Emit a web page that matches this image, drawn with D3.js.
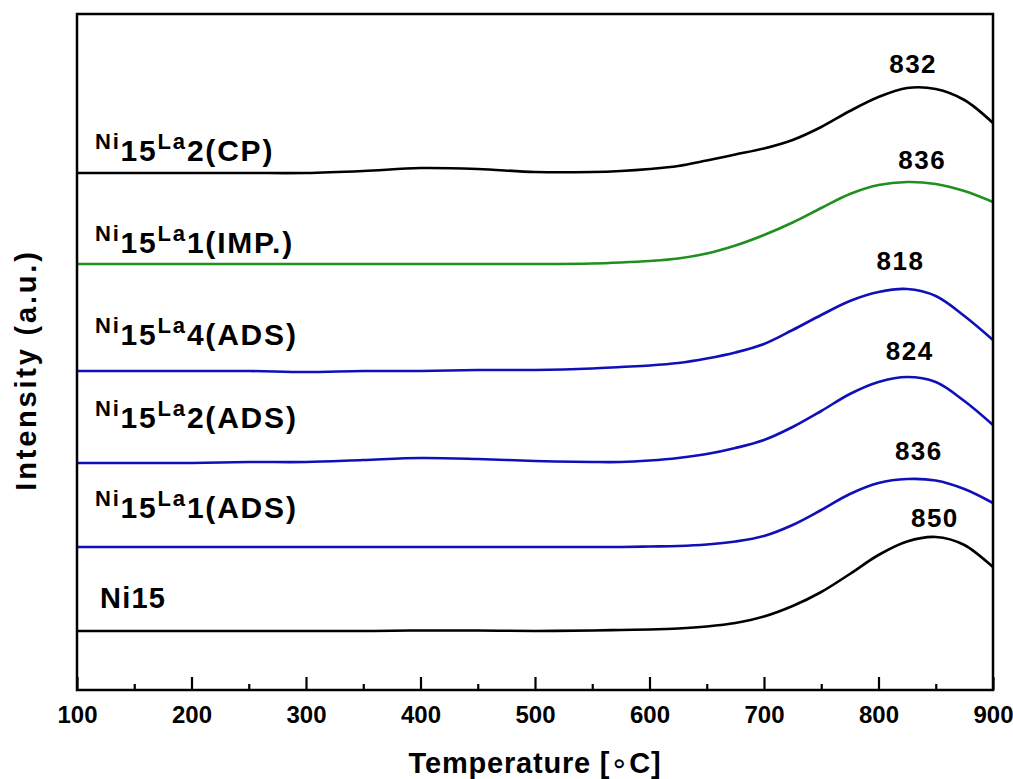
<!DOCTYPE html>
<html>
<head>
<meta charset="utf-8">
<script src="https://cdn.jsdelivr.net/npm/d3@7"></script>
<style>
  html, body { margin: 0; padding: 0; background: #fff; }
  svg { display: block; font-family: "Liberation Sans", Arial, sans-serif; font-weight: bold; }
</style>
</head>
<body>
<svg id="chart" width="1013" height="779"></svg>
<script>
// ---- data (temperature grid in °C, intensity in arbitrary units) ----
const temps = [100,150,200,250,300,350,400,450,500,550,575,600,625,650,675,700,725,750,775,800,825,850,875,900];

const ni15        = [59,59,59,59,59,59,59.5,59.5,59,59.5,60,60.5,61.5,63.5,67,73.5,84,98,116,135,148.5,153,145,123];
const ni15La1ADS  = [143,143,143,143,143,143,143,143,143,143,143,143.5,144,145.5,148.5,154,165,180,196,207,211,209.5,201,187];
const ni15La2ADS  = [227,227,227,228,228,230,232,231,229,228,228,229.5,232,236,242,250,263,279,296,308,313,308,289,265];
const ni15La4ADS  = [319,319,319,319,318,319,319,320,320,321.5,323,324.5,327,331.5,337.5,346,360,375,389,398,401,394,374,350];
const ni15La1IMP  = [426,426,426,426,426,426,426,426,426,426.5,427.5,429,431.5,436.5,444.5,455,467.5,482,496,505,508,506,499,488];
const ni15La2CP   = [517,517,517,517,517,519,522,521,518,518,519,521,524,529.5,535.5,541.5,550,563,579,593,602,601,590,567];

const seriesNames  = ["Ni15", "Ni15La1(ADS)", "Ni15La2(ADS)", "Ni15La4(ADS)", "Ni15La1(IMP.)", "Ni15La2(CP)"];
const seriesValues = [ni15, ni15La1ADS, ni15La2ADS, ni15La4ADS, ni15La1IMP, ni15La2CP];
const seriesColors = ["#000000", "#1010b8", "#1010b8", "#1010b8", "#1f8f1f", "#000000"];
// label parts: [small, large, small, large]
const labelParts = [
  null,
  ["Ni","15","La","1(ADS)"],
  ["Ni","15","La","2(ADS)"],
  ["Ni","15","La","4(ADS)"],
  ["Ni","15","La","1(IMP.)"],
  ["Ni","15","La","2(CP)"]
];
const labelBaseY = [82, 172, 262, 345, 437, 529];   // intensity units for label baselines
const peakLabels = ["850", "836", "824", "818", "836", "832"];
const peakTemps  = [851, 837, 829, 821, 840, 832];
const peakLabelY = [163, 230, 330, 420, 521, 617];  // intensity units for peak label baselines

const xTicksMajor = [100,200,300,400,500,600,700,800,900];
const xTicksMinor = [150,250,350,450,550,650,750,850];

// ---- layout ----
const svg = d3.select("#chart");
const L = 77, R = 993, T = 14, B = 690;
const x = d3.scaleLinear().domain([100, 900]).range([L, R]);
const y = d3.scaleLinear().domain([0, 676]).range([B, T]);

// curves
const line = d3.line()
  .x((d, i) => x(temps[i]))
  .y(d => y(d))
  .curve(d3.curveCatmullRom.alpha(0.5));

const g = svg.append("g");
seriesValues.forEach((vals, k) => {
  g.append("path")
    .attr("d", line(vals))
    .attr("fill", "none")
    .attr("stroke", seriesColors[k])
    .attr("stroke-width", 2.6)
    .attr("stroke-linejoin", "round");
});

// frame
svg.append("rect")
  .attr("x", L).attr("y", T)
  .attr("width", R - L).attr("height", B - T)
  .attr("fill", "none").attr("stroke", "#000").attr("stroke-width", 2.5);

// bottom axis (ticks inward)
const axisMajor = d3.axisBottom(x).tickValues(xTicksMajor).tickSize(-13).tickFormat(d3.format("d"));
const ax = svg.append("g").attr("transform", `translate(0,${B})`).call(axisMajor);
ax.select(".domain").remove();
ax.selectAll(".tick line").attr("stroke", "#000").attr("stroke-width", 2.2);
ax.selectAll(".tick text")
  .attr("font-size", 24).attr("font-weight", "bold").attr("fill", "#000")
  .attr("font-family", "Liberation Sans, Arial, sans-serif")
  .attr("dy", null).attr("y", 33);
const axisMinor = d3.axisBottom(x).tickValues(xTicksMinor).tickSize(-6).tickFormat("");
const axm = svg.append("g").attr("transform", `translate(0,${B})`).call(axisMinor);
axm.select(".domain").remove();
axm.selectAll(".tick line").attr("stroke", "#000").attr("stroke-width", 2.2);

// axis titles
const xt = svg.append("text")
  .attr("x", (L + R) / 2).attr("y", 773)
  .attr("text-anchor", "middle").attr("font-size", 29).attr("letter-spacing", 0.8);
xt.append("tspan").text("Temperature [");
xt.append("tspan").text("\u2218").attr("font-weight", "normal").attr("font-family", "DejaVu Sans");
xt.append("tspan").text("C]");

svg.append("text")
  .attr("transform", `translate(36,${370}) rotate(-90)`)
  .attr("text-anchor", "middle").attr("font-size", 29).attr("letter-spacing", 2.8)
  .text("Intensity (a.u.)");

// series labels
seriesNames.forEach((name, k) => {
  const t = svg.append("text")
    .attr("x", k === 0 ? 100 : 95)
    .attr("y", y(labelBaseY[k]))
    .attr("fill", "#000");
  if (!labelParts[k]) {
    t.attr("font-size", 29).attr("letter-spacing", 1.2).text(name);
  } else {
    t.attr("letter-spacing", 1.8);
    const p = labelParts[k];
    t.append("tspan").text(p[0]).attr("font-size", 22).attr("dy", -12);
    t.append("tspan").text(p[1]).attr("font-size", 30).attr("dy", 12);
    t.append("tspan").text(p[2]).attr("font-size", 22).attr("dy", -12);
    t.append("tspan").text(p[3]).attr("font-size", 30).attr("dy", 12);
  }
});

// peak labels
peakLabels.forEach((lab, k) => {
  svg.append("text")
    .attr("x", x(peakTemps[k]) - 2)
    .attr("y", y(peakLabelY[k]))
    .attr("text-anchor", "middle")
    .attr("font-size", 26).attr("letter-spacing", 1.5)
    .text(lab);
});
</script>
</body>
</html>
